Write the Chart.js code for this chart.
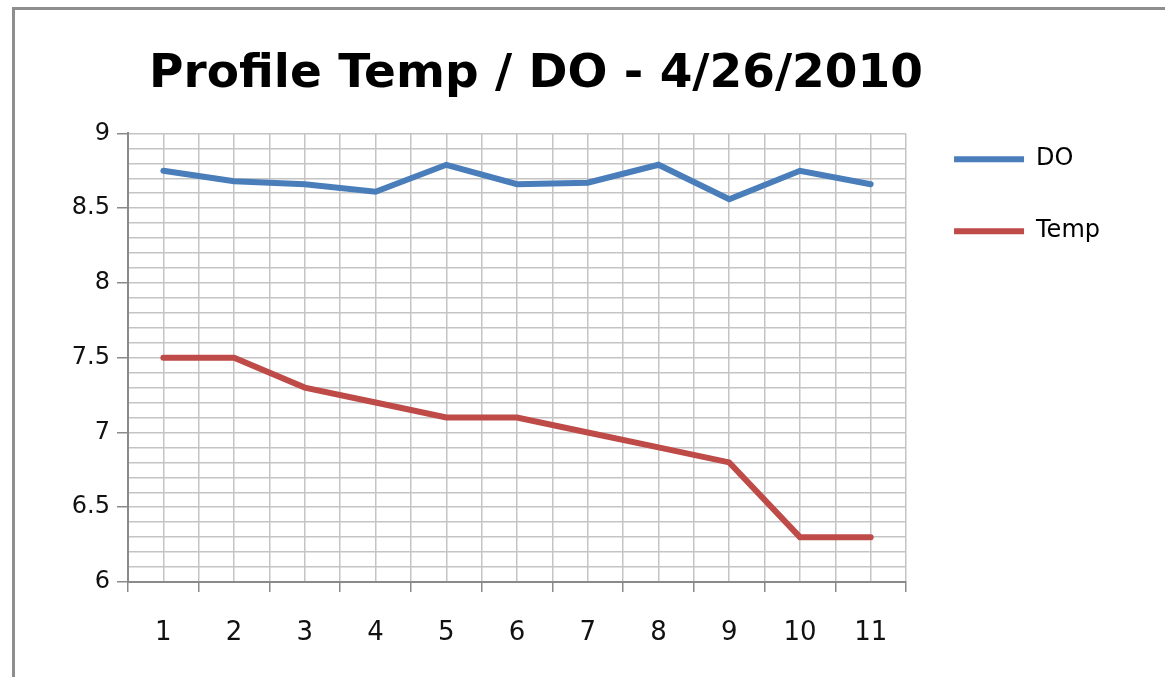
<!DOCTYPE html>
<html>
<head>
<meta charset="utf-8">
<title>Profile Temp / DO - 4/26/2010</title>
<script src="https://cdn.jsdelivr.net/npm/chart.js@4.4.1/dist/chart.umd.min.js"></script>
<style>
    html, body { margin: 0; padding: 0; background: #fff; overflow: hidden; }
    #frame {
        position: absolute; left: 12px; top: 7px; width: 1160px; height: 680px;
        border-top: 3px solid #8e8e8e; border-left: 3px solid #8e8e8e;
    }
    #wrap { position: absolute; left: -38px; top: 0; width: 1148px; height: 677px; }
</style>
</head>
<body>
<div id="frame"></div>
<div id="wrap"><canvas id="profileChart"></canvas></div>
<script>
    /* ================= DATA ================= */
    const categories = ['1', '2', '3', '4', '5', '6', '7', '8', '9', '10', '11'];
    const doValues = [8.75, 8.68, 8.66, 8.61, 8.79, 8.66, 8.67, 8.79, 8.56, 8.75, 8.66];
    const tempValues = [7.5, 7.5, 7.3, 7.2, 7.1, 7.1, 7.0, 6.9, 6.8, 6.3, 6.3];
    const yTickLabels = ['6', '6.5', '7', '7.5', '8', '8.5', '9'];

    const FONT = 'DejaVu Sans';
    const gridGray = '#c4c4c4';
    const axisGray = '#8a8a8a';

    const toPoints = vals => vals.map((v, i) => ({ x: i + 1, y: v }));
    const yLabel = v => String(+v.toFixed(1));
    const isYMajor = v => yTickLabels.includes(yLabel(v));
    const isBoundary = v => !Number.isInteger(+v.toFixed(1));

    /* ================= CHART ================= */
    new Chart(document.getElementById('profileChart'), {
        type: 'line',
        data: {
            datasets: [{
                label: 'DO',
                data: toPoints(doValues),
                borderColor: '#4A7EBB',
                backgroundColor: '#4A7EBB',
                borderWidth: 6,
                borderCapStyle: 'round',
                pointRadius: 0,
                tension: 0
            }, {
                label: 'Temp',
                data: toPoints(tempValues),
                borderColor: '#BE4B48',
                backgroundColor: '#BE4B48',
                borderWidth: 6,
                borderCapStyle: 'round',
                pointRadius: 0,
                tension: 0
            }]
        },
        options: {
            responsive: true,
            maintainAspectRatio: false,
            animation: false,
            layout: { padding: 0 },
            plugins: {
                title: {
                    display: true,
                    text: 'Profile Temp / DO - 4/26/2010',
                    color: '#000',
                    font: { family: FONT, size: 47, weight: 'bold' },
                    padding: { top: 47, bottom: 30 }
                },
                legend: {
                    position: 'right',
                    align: 'start',
                    // empty legend title only reserves the space above the first item
                    title: { display: true, text: '', font: { size: 1 }, padding: { top: 0, bottom: 98 } },
                    labels: {
                        usePointStyle: true,
                        pointStyle: 'line',
                        pointStyleWidth: 70,
                        padding: 48,
                        color: '#000',
                        font: { family: FONT, size: 24 }
                    }
                },
                tooltip: { enabled: false }
            },
            scales: {
                x: {
                    type: 'linear',
                    min: 0.5,
                    max: categories.length + 0.5,
                    afterFit: s => { s.height = 95; },
                    ticks: {
                        stepSize: 0.5,
                        autoSkip: false,
                        maxRotation: 0,
                        padding: 26,
                        color: '#111',
                        font: { family: FONT, size: 26 },
                        callback: v => isBoundary(v) ? '' : categories[Math.round(v) - 1]
                    },
                    grid: {
                        color: gridGray,
                        lineWidth: 1.5,
                        tickLength: 10,
                        tickWidth: 1.5,
                        tickColor: ctx => ctx.tick && isBoundary(ctx.tick.value) ? axisGray : 'transparent'
                    },
                    border: { color: axisGray, width: 2 }
                },
                y: {
                    min: 6,
                    max: 9,
                    afterFit: s => { s.width = 166; },
                    ticks: {
                        stepSize: 0.1,
                        autoSkip: false,
                        padding: 7,
                        color: '#111',
                        font: { family: FONT, size: 24 },
                        callback: v => isYMajor(v) ? yLabel(v) : ''
                    },
                    grid: {
                        color: gridGray,
                        lineWidth: 1.5,
                        tickLength: 11,
                        tickWidth: 1.5,
                        tickColor: ctx => ctx.tick && isYMajor(ctx.tick.value) ? axisGray : 'transparent'
                    },
                    border: { color: axisGray, width: 2 }
                }
            }
        }
    });
</script>
</body>
</html>
